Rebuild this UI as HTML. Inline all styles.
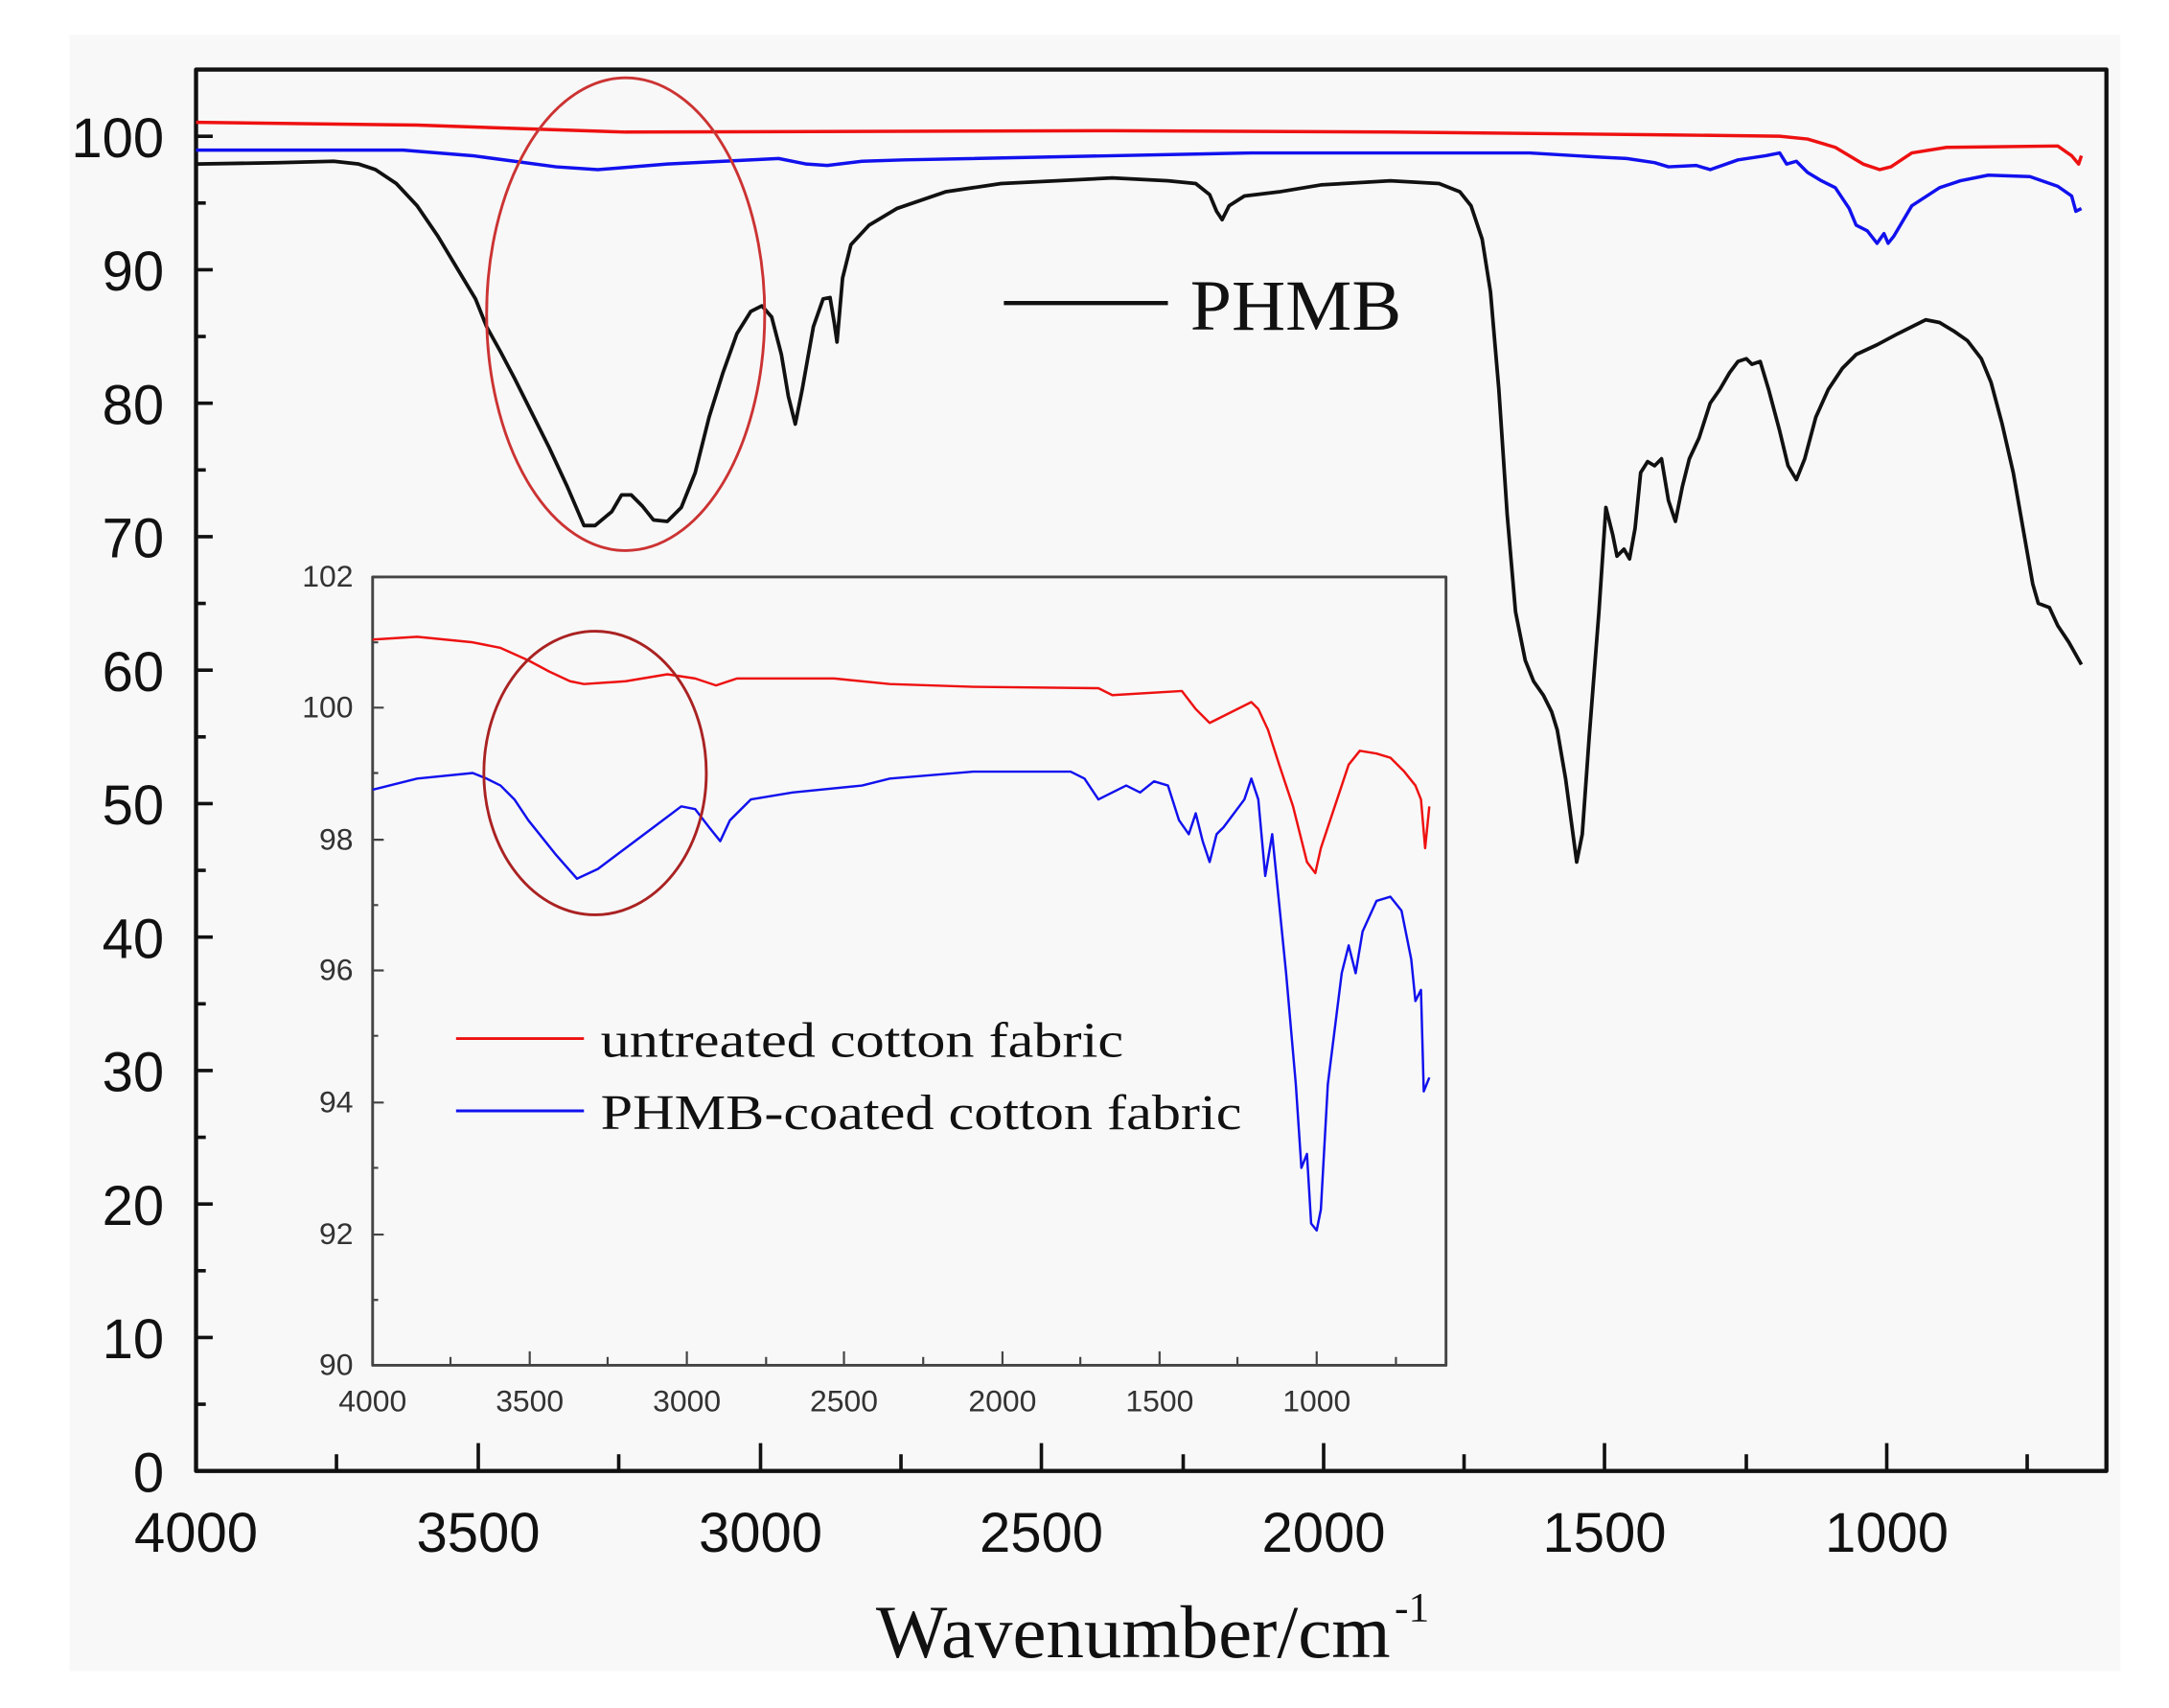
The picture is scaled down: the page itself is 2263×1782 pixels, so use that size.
<!DOCTYPE html>
<html><head><meta charset="utf-8"><style>html,body{margin:0;padding:0;background:#fff}svg{display:block}</style></head>
<body>
<svg width="2263" height="1782" viewBox="0 0 1560 1228.5" preserveAspectRatio="none" xmlns="http://www.w3.org/2000/svg">
<rect x="50" y="25" width="1475" height="1177" fill="#f8f8f8"/>
<g fill="none" stroke-linejoin="round">
<rect x="141" y="50" width="1374" height="1008" stroke="#111" stroke-width="3"/>
<g stroke="#111" stroke-width="2.5">
<path d="M141 1058h12M141 962h12M141 866h12M141 770h12M141 674h12M141 578h12M141 482h12M141 386h12M141 290h12M141 194h12M141 98h12"/>
<path d="M141 1010h7M141 914h7M141 818h7M141 722h7M141 626h7M141 530h7M141 434h7M141 338h7M141 242h7M141 146h7M141 50h7"/>
<path d="M344 1058v-20M547 1058v-20M749 1058v-20M952 1058v-20M1154 1058v-20M1357 1058v-20"/>
<path d="M242 1058v-12M445 1058v-12M648 1058v-12M851 1058v-12M1053 1058v-12M1256 1058v-12M1458 1058v-12"/>
</g>
<polyline stroke="#e11" stroke-width="2.4" points="141,88 300,90 450,95 800,94 1000,95 1200,97 1280,98 1300,100 1320,106 1340,118 1352,122 1360,120 1375,110 1400,106 1480,105 1490,112 1495,118 1497,112"/>
<polyline stroke="#11e" stroke-width="2.4" points="141,108 290,108 340,112 400,120 430,122 480,118 520,116 560,114 580,118 595,119 620,116 650,115 900,110 1100,110 1150,113 1170,114 1190,117 1200,120 1220,119 1230,122 1250,115 1270,112 1280,110 1285,118 1292,116 1300,124 1310,130 1320,135 1330,150 1335,162 1343,166 1350,175 1355,168 1358,175 1362,170 1375,148 1395,135 1410,130 1430,126 1460,127 1480,134 1490,141 1493,152 1497,150"/>
<polyline stroke="#111" stroke-width="2.6" points="141,118 200,117 240,116 258,118 270,122 285,132 300,148 315,170 330,195 342,215 350,235 360,253 370,272 383,298 395,322 408,350 420,378 428,378 440,368 447,356 454,356 462,364 470,374 480,375 490,365 500,340 510,300 520,268 530,240 540,224 548,220 555,228 562,255 567,285 572,305 577,280 585,235 592,215 597,214 600,232 602,246 606,200 612,176 625,162 645,150 680,138 720,132 760,130 800,128 840,130 860,132 870,140 875,152 879,158 884,148 895,141 920,138 950,133 1000,130 1035,132 1050,138 1058,148 1066,172 1072,210 1078,280 1084,370 1090,440 1097,475 1103,490 1110,500 1116,512 1120,525 1126,560 1130,590 1134,620 1138,600 1143,530 1150,440 1155,365 1160,385 1163,400 1168,395 1172,402 1176,380 1180,340 1185,332 1190,335 1195,330 1200,360 1205,375 1210,350 1215,330 1222,315 1230,290 1237,280 1244,268 1250,260 1256,258 1260,262 1266,260 1272,280 1280,310 1286,335 1292,345 1298,330 1306,300 1315,280 1325,265 1335,255 1350,248 1365,240 1375,235 1385,230 1395,232 1405,238 1415,245 1425,258 1432,275 1440,305 1448,340 1455,380 1462,420 1466,434 1474,437 1480,450 1488,462 1497,478"/>
<ellipse cx="450" cy="226" rx="100" ry="170" stroke="#c33" stroke-width="2"/>
<path d="M722 218H840" stroke="#111" stroke-width="3"/>
<rect x="268" y="415" width="772" height="567" fill="#f8f8f8" stroke="#444" stroke-width="2"/>
<g stroke="#444" stroke-width="1.5">
<path d="M268 415h8M268 509h8M268 604h8M268 698h8M268 793h8M268 888h8M268 462h4M268 556h4M268 651h4M268 745h4M268 840h4M268 935h4"/>
<path d="M381 982v-10M494 982v-10M607 982v-10M721 982v-10M834 982v-10M947 982v-10M324 982v-6M437 982v-6M551 982v-6M664 982v-6M777 982v-6M890 982v-6M1004 982v-6"/>
</g>
<polyline stroke="#e11" stroke-width="1.7" points="268,460 300,458 340,462 360,466 380,475 395,483 410,490 420,492 450,490 480,485 500,488 515,493 530,488 600,488 640,492 700,494 790,495 800,500 850,497 860,510 870,520 880,515 900,505 905,510 912,525 920,550 930,580 940,620 946,628 950,610 960,580 970,550 978,540 990,542 1000,545 1010,555 1018,565 1022,575 1025,610 1028,580"/>
<polyline stroke="#11e" stroke-width="1.7" points="268,568 300,560 340,556 350,560 360,565 370,575 380,590 400,615 415,632 430,625 450,610 470,595 490,580 500,582 510,595 518,605 525,590 540,575 570,570 620,565 640,560 700,555 770,555 780,560 790,575 800,570 810,565 820,570 830,562 840,565 848,590 855,600 860,585 865,605 870,620 875,600 880,595 895,575 900,560 905,575 910,630 915,600 920,650 925,700 932,780 936,840 940,830 943,880 947,885 950,870 955,780 965,700 970,680 975,700 980,670 990,648 1000,645 1008,655 1015,690 1018,720 1022,712 1024,785 1028,775"/>
<ellipse cx="428" cy="556" rx="80" ry="102" stroke="#a22" stroke-width="2"/>
<path d="M328 747H420" stroke="#e11" stroke-width="2"/>
<path d="M328 799H420" stroke="#11e" stroke-width="2"/>
</g>
<g font-family="Liberation Sans, sans-serif" fill="#111">
<g font-size="40" text-anchor="end">
<text x="118" y="1073">0</text><text x="118" y="977">10</text><text x="118" y="881">20</text><text x="118" y="785">30</text><text x="118" y="689">40</text><text x="118" y="593">50</text><text x="118" y="497">60</text><text x="118" y="401">70</text><text x="118" y="305">80</text><text x="118" y="209">90</text><text x="118" y="113">100</text>
</g>
<g font-size="40" text-anchor="middle">
<text x="141" y="1116">4000</text><text x="344" y="1116">3500</text><text x="547" y="1116">3000</text><text x="749" y="1116">2500</text><text x="952" y="1116">2000</text><text x="1154" y="1116">1500</text><text x="1357" y="1116">1000</text>
</g>
<g font-size="22" text-anchor="end" fill="#333">
<text x="254" y="422">102</text><text x="254" y="516">100</text><text x="254" y="611">98</text><text x="254" y="705">96</text><text x="254" y="800">94</text><text x="254" y="895">92</text><text x="254" y="989">90</text>
</g>
<g font-size="22" text-anchor="middle" fill="#333">
<text x="268" y="1015">4000</text><text x="381" y="1015">3500</text><text x="494" y="1015">3000</text><text x="607" y="1015">2500</text><text x="721" y="1015">2000</text><text x="834" y="1015">1500</text><text x="947" y="1015">1000</text>
</g>
</g>
<g font-family="Liberation Serif, serif" fill="#111">
<text x="856" y="237" font-size="52" textLength="152" lengthAdjust="spacingAndGlyphs">PHMB</text>
<text x="432" y="760" font-size="36" textLength="376" lengthAdjust="spacingAndGlyphs">untreated cotton fabric</text>
<text x="432" y="812" font-size="36" textLength="461" lengthAdjust="spacingAndGlyphs">PHMB-coated cotton fabric</text>
<text x="630" y="1192" font-size="54" textLength="370" lengthAdjust="spacingAndGlyphs">Wavenumber/cm</text>
<text x="1003" y="1166" font-size="30">-1</text>
</g>
</svg>
</body></html>
